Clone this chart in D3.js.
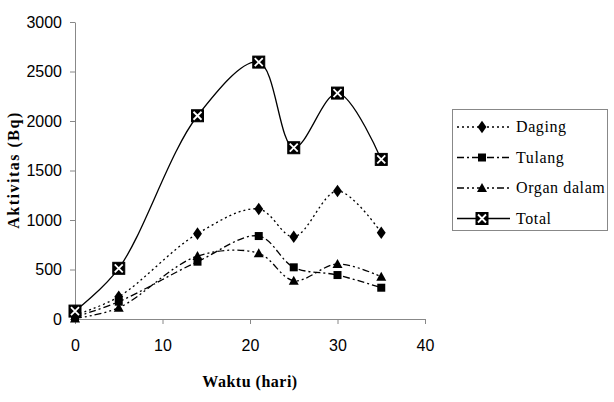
<!DOCTYPE html>
<html><head><meta charset="utf-8">
<script src="https://cdn.jsdelivr.net/npm/d3@7"></script>
<style>body{margin:0;background:#fff}svg{display:block}
.serif{font-family:'Liberation Serif','Times New Roman','DejaVu Serif',serif}
.sans{font-family:'Liberation Sans',Arial,sans-serif}</style>
</head><body><svg id="c" width="614" height="402"></svg>
<script>
const days = [0, 5, 14, 21, 25, 30, 35];
const daging = [40, 225, 862, 1111, 831, 1293, 872];
const tulang = [20, 175, 579, 838, 522, 444, 316];
const organDalam = [5, 114, 636, 663, 387, 556, 427];
const total = [80, 512, 2053, 2595, 1730, 2282, 1612];
const seriesNames = ["Daging", "Tulang", "Organ dalam", "Total"];
const xTicks = [0, 10, 20, 30, 40];
const yTicks = [0, 500, 1000, 1500, 2000, 2500, 3000];

const svg = d3.select("#c");
const x = d3.scaleLinear().domain([0, 40]).range([75, 425]);
const y = d3.scaleLinear().domain([0, 3000]).range([319, 22]);

const xAxis = svg.append("g").attr("transform", "translate(0,319)")
  .call(d3.axisBottom(x).tickValues(xTicks).tickFormat(d3.format("d")).tickSize(5).tickSizeOuter(0).tickPadding(16));
const yAxis = svg.append("g").attr("transform", "translate(75,0)")
  .call(d3.axisLeft(y).tickValues(yTicks).tickFormat(d3.format("d")).tickSize(5).tickSizeOuter(0).tickPadding(8));
[xAxis, yAxis].forEach(a => {
  a.attr("font-family", null).attr("font-size", null);
  a.select(".domain").attr("stroke", "#888");
  a.selectAll(".tick line").attr("stroke", "#888");
  a.selectAll("text").attr("class", "sans").style("font-size", "16px").attr("fill", "#000");
});

svg.append("text").attr("class", "serif").attr("x", 250).attr("y", 387).attr("text-anchor", "middle")
  .style("font-weight", "bold").style("font-size", "16px").style("letter-spacing", "0.5px").text("Waktu (hari)");
svg.append("text").attr("class", "serif").attr("transform", "translate(19,170) rotate(-90)").attr("text-anchor", "middle")
  .style("font-weight", "bold").style("font-size", "16px").style("letter-spacing", "1.5px").text("Aktivitas (Bq)");

const dashes = ["2,3", "7,3,2,3", "7,3,2,3,2,3", null];
const data = [daging, tulang, organDalam, total];
const line = d3.line().x((d, i) => x(days[i])).y(d => y(d)).curve(d3.curveCatmullRom.alpha(0.5));

function marker(g, kind) {
  if (kind === 0) {
    g.append("path").attr("d", d3.symbol(d3.symbolDiamond2, 70)()).attr("fill", "#000")
      .attr("transform", "scale(0.85,1.2)");
  } else if (kind === 1) {
    g.append("rect").attr("x", -4).attr("y", -4).attr("width", 8).attr("height", 8).attr("fill", "#000");
  } else if (kind === 2) {
    g.append("path").attr("d", "M0,-5L5,4L-5,4Z").attr("fill", "#000");
  } else {
    g.append("rect").attr("x", -6).attr("y", -6).attr("width", 12).attr("height", 12)
      .attr("fill", "#000").attr("stroke", "#000");
    g.append("path").attr("d", "M-4,-4L4,4M4,-4L-4,4").attr("stroke", "#fff").attr("stroke-width", 1.8);
  }
}

data.forEach((vals, k) => {
  svg.append("path").datum(vals).attr("d", line).attr("fill", "none")
    .attr("stroke", "#000").attr("stroke-width", 1.3)
    .attr("stroke-dasharray", dashes[k]);
});
data.forEach((vals, k) => {
  vals.forEach((v, i) => {
    marker(svg.append("g").attr("transform", `translate(${x(days[i])},${y(v)})`), k);
  });
});

const lg = svg.append("g");
lg.append("rect").attr("x", 452.5).attr("y", 109.5).attr("width", 155).attr("height", 121)
  .attr("fill", "#fff").attr("stroke", "#888");
seriesNames.forEach((n, k) => {
  const ly = 127 + k * 30.5;
  lg.append("line").attr("x1", 457).attr("x2", 510).attr("y1", ly).attr("y2", ly)
    .attr("stroke", "#000").attr("stroke-width", 1.3).attr("stroke-dasharray", dashes[k]);
  marker(lg.append("g").attr("transform", `translate(482,${ly})`), k);
  lg.append("text").attr("class", "serif").attr("x", 516).attr("y", ly + 5)
    .style("font-size", "16px").style("letter-spacing", "0.6px").text(n);
});
</script></body></html>
